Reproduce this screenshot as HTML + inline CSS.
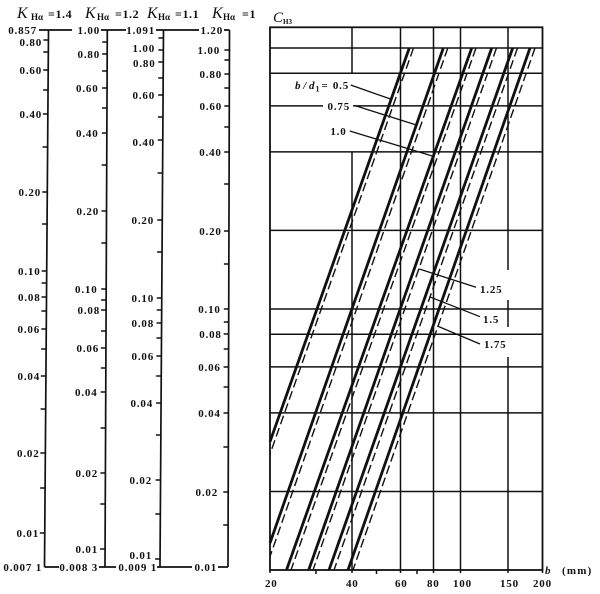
<!DOCTYPE html>
<html>
<head>
<meta charset="utf-8">
<style>
html,body{margin:0;padding:0;background:#fff;}
svg{display:block;}
.n{font-family:"Liberation Serif","DejaVu Serif",serif;font-weight:bold;font-size:11px;letter-spacing:0.8px;fill:#111;}
.e{text-anchor:end;}
.k{font-family:"Liberation Serif","DejaVu Serif",serif;font-style:italic;font-size:16px;fill:#111;}
.s{font-family:"Liberation Serif","DejaVu Serif",serif;font-weight:bold;font-size:9px;fill:#111;}
.t{font-family:"Liberation Serif","DejaVu Serif",serif;font-weight:bold;font-size:12px;letter-spacing:0.6px;fill:#111;}
</style>
</head>
<body>
<svg width="600" height="594" viewBox="0 0 600 594" xmlns="http://www.w3.org/2000/svg">
<rect width="600" height="594" fill="#fff"/>

<!-- Titles -->
<text class="k" x="17" y="18">K</text><text class="s" x="31" y="20">Hα</text><text class="t" x="48" y="18">=1.4</text>
<text class="k" x="85" y="18">K</text><text class="s" x="97" y="20">Hα</text><text class="t" x="115" y="18">=1.2</text>
<text class="k" x="147" y="18">K</text><text class="s" x="158" y="20">Hα</text><text class="t" x="175" y="18">=1.1</text>
<text class="k" x="212" y="18">K</text><text class="s" x="223" y="20">Hα</text><text class="t" x="242" y="18">=1</text>

<!-- Left scales -->
<g stroke="#111" stroke-width="1.7" fill="none">
<path d="M48.5,30L44.5,567 M107.3,30L105,567 M163.5,30L160,567 M229.5,30L228,567"/>
<path d="M39,30H72 M101,30H126 M156,30H199 M224,30H229.5"/>
<path d="M44.5,567H59 M99,567H116 M157,567H192 M218,567H228"/>
</g>
<g stroke="#111" stroke-width="1.4" fill="none">
<path d="M43.4,40H48.4 M43.3,52H48.3 M43.2,70H48.2 M43.1,90H48.1 M42.9,114H47.9 M42.6,147H47.6 M42.3,192H47.3 M42.1,224H47.1 M41.7,271H46.7 M41.6,283H46.6 M41.5,297H46.5 M41.4,311H46.4 M41.3,329H46.3 M41.1,349H46.1 M40.9,376H45.9 M40.6,409H45.6 M40.3,453H45.3 M40.1,488H45.1 M39.8,533H44.8"/>
<path d="M102.2,42H107.2 M102.2,54H107.2 M102.1,71H107.1 M102.1,88H107.1 M102,108H107 M101.9,133H106.9 M101.7,165H106.7 M101.5,211H106.5 M101.4,243H106.4 M101.2,289H106.2 M101.1,300H106.1 M101.1,310H106.1 M101,331H106 M100.9,348H105.9 M100.9,368H105.9 M100.7,392H105.7 M100.6,428H105.6 M100.4,473H105.4 M100.3,504H105.3 M100.1,549H105.1"/>
<path d="M158.4,38H163.4 M158.4,50H163.4 M158.3,62H163.3 M158.2,78H163.2 M158.1,95H163.1 M157.9,117H162.9 M157.8,140H162.8 M157.6,173H162.6 M157.3,220H162.3 M157.1,252H162.1 M156.8,298H161.8 M156.7,310H161.7 M156.6,323H161.6 M156.5,338H161.5 M156.4,356H161.4 M156.2,376H161.2 M156.1,403H161.1 M155.9,435H160.9 M155.6,480H160.6 M155.3,514H160.3 M155.1,559H160.1"/>
<path d="M224.4,50H229.4 M224.4,60H229.4 M224.4,74H229.4 M224.3,88H229.3 M224.3,106H229.3 M224.3,127H229.3 M224.2,152H229.2 M224.1,184H229.1 M224,231H229 M223.9,264H228.9 M223.8,309H228.8 M223.8,322H228.8 M223.7,334H228.7 M223.7,349H228.7 M223.6,367H228.6 M223.6,387H228.6 M223.5,413H228.5 M223.4,447H228.4 M223.3,492H228.3 M223.2,525H228.2"/>
</g>

<!-- Axis 1 labels -->
<text class="n e" x="37" y="34">0.857</text>
<text class="n e" x="42" y="46">0.80</text>
<text class="n e" x="42" y="74">0.60</text>
<text class="n e" x="42" y="118">0.40</text>
<text class="n e" x="41" y="196">0.20</text>
<text class="n e" x="40.5" y="275">0.10</text>
<text class="n e" x="40.5" y="301">0.08</text>
<text class="n e" x="40" y="333">0.06</text>
<text class="n e" x="40" y="380">0.04</text>
<text class="n e" x="39.5" y="457">0.02</text>
<text class="n e" x="39" y="537">0.01</text>
<text class="n e" x="42" y="571">0.007 1</text>

<!-- Axis 2 labels -->
<text class="n e" x="100" y="34">1.00</text>
<text class="n e" x="100" y="58">0.80</text>
<text class="n e" x="98.5" y="92">0.60</text>
<text class="n e" x="98.5" y="137">0.40</text>
<text class="n e" x="99" y="215">0.20</text>
<text class="n e" x="97.5" y="293">0.10</text>
<text class="n e" x="100" y="314">0.08</text>
<text class="n e" x="99" y="352">0.06</text>
<text class="n e" x="97.5" y="396">0.04</text>
<text class="n e" x="98" y="477">0.02</text>
<text class="n e" x="98" y="553">0.01</text>
<text class="n e" x="98" y="571">0.008 3</text>

<!-- Axis 3 labels -->
<text class="n e" x="155" y="34">1.091</text>
<text class="n e" x="155" y="52">1.00</text>
<text class="n e" x="155.5" y="67">0.80</text>
<text class="n e" x="155" y="99">0.60</text>
<text class="n e" x="155" y="146">0.40</text>
<text class="n e" x="154" y="224">0.20</text>
<text class="n e" x="154" y="302">0.10</text>
<text class="n e" x="154" y="327">0.08</text>
<text class="n e" x="154" y="360">0.06</text>
<text class="n e" x="153" y="407">0.04</text>
<text class="n e" x="152" y="484">0.02</text>
<text class="n e" x="152" y="559">0.01</text>
<text class="n e" x="157" y="571">0.009 1</text>

<!-- Axis 4 labels -->
<text class="n e" x="223" y="34">1.20</text>
<text class="n e" x="220" y="54">1.00</text>
<text class="n e" x="222" y="78">0.80</text>
<text class="n e" x="222" y="110">0.60</text>
<text class="n e" x="221.7" y="156">0.40</text>
<text class="n e" x="221.7" y="235">0.20</text>
<text class="n e" x="220.7" y="313">0.10</text>
<text class="n e" x="221.7" y="338">0.08</text>
<text class="n e" x="220.7" y="371">0.06</text>
<text class="n e" x="220.7" y="417">0.04</text>
<text class="n e" x="218" y="496">0.02</text>
<text class="n e" x="217" y="571">0.01</text>

<!-- Chart title -->
<text class="k" x="273" y="22" style="font-size:15px">C</text>
<text class="s" x="283" y="24" style="font-size:7px">H3</text>

<!-- Chart grid -->
<g stroke="#111" stroke-width="1.5" fill="none">
<rect x="270" y="27.3" width="272.5" height="542.7" stroke-width="1.8"/>
<path d="M270,48H542.5 M270,73.3H542.5 M270,105.9H323 M353,105.9H542.5 M270,151.9H542.5 M270,230.4H542.5 M270,309H542.5 M270,334.3H542.5 M270,366.9H542.5 M270,412.9H542.5 M270,491.5H542.5"/>
<path d="M352,27.3V73.3 M352,151.9V573 M400.5,27.3V573 M433.5,27.3V573 M460.5,27.3V573 M508,27.3V270 M508,300V327 M508,357V573 M270,570V573 M542.5,570V573"/>
<path d="M316,570V574 M376.5,570V574 M417,570V574"/>
</g>

<!-- Solid lines -->
<g stroke="#111" stroke-width="2.8" fill="none">
<path d="M409.3,48L270,441.7 M443.3,48L270,543 M471.7,48L286.5,570 M491.7,48L308.7,570 M512.7,48L329,570 M530,48L348,570"/>
</g>
<!-- Dashed lines -->
<g stroke="#111" stroke-width="1.4" fill="none" stroke-dasharray="9 4">
<path d="M413.5,48L270,454"/>
<path d="M447.8,48L270,556.5"/>
<path d="M476,48L291,570"/>
<path d="M496.5,48L313,570"/>
<path d="M517.5,48L334,570"/>
<path d="M535,48L353,570"/>
</g>

<!-- Leader lines -->
<g stroke="#111" stroke-width="1.3" fill="none">
<path d="M350.7,85L391.3,99.3 M354.7,105.5L416.3,125 M349.7,131L434.7,156.7 M419.3,269L476,287.3 M429.3,296.7L480,316.7 M437.3,326L480,344"/>
</g>

<!-- Curve labels -->
<text class="n" x="295" y="89" style="font-style:italic;letter-spacing:0" textLength="19.5" lengthAdjust="spacing">b/d</text>
<text class="s" x="315.5" y="91.5" style="font-size:8px">1</text>
<text class="n" x="321.5" y="89">=</text>
<text class="n e" x="349" y="89">0.5</text>
<text class="n e" x="350" y="110">0.75</text>
<text class="n e" x="346.5" y="135">1.0</text>
<text class="n" x="480" y="293">1.25</text>
<text class="n" x="483" y="323">1.5</text>
<text class="n" x="484" y="348">1.75</text>

<!-- X axis labels -->
<text class="n" x="265" y="587">20</text>
<text class="n" x="346" y="587">40</text>
<text class="n" x="395" y="587">60</text>
<text class="n" x="427" y="587">80</text>
<text class="n" x="453" y="587">100</text>
<text class="n" x="500" y="587">150</text>
<text class="n" x="533" y="587">200</text>
<text class="n" x="545" y="574" style="font-style:italic">b</text>
<text class="n" x="562" y="574" style="letter-spacing:1.2px">(mm)</text>
</svg>
</body>
</html>
